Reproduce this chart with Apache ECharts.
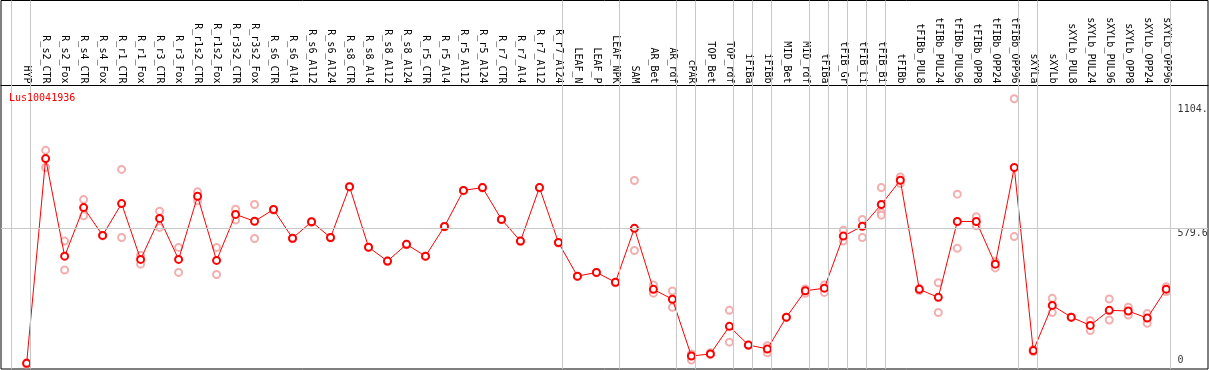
<!DOCTYPE html>
<html><head><meta charset="utf-8">
<script src="https://cdn.jsdelivr.net/npm/echarts@6/dist/echarts.min.js"></script>
<style>html,body{margin:0;padding:0;background:#fff}#c{width:1209px;height:370px}</style>
</head><body><div id="c"></div>
<script>
const title = "Lus10041936";
const categories = ["HYP","R_s2_CTR","R_s2_Fox","R_s4_CTR","R_s4_Fox","R_r1_CTR","R_r1_Fox","R_r3_CTR","R_r3_Fox","R_r1s2_CTR","R_r1s2_Fox","R_r3s2_CTR","R_r3s2_Fox","R_s6_CTR","R_s6_Al4","R_s6_Al12","R_s6_Al24","R_s8_CTR","R_s8_Al4","R_s8_Al12","R_s8_Al24","R_r5_CTR","R_r5_Al4","R_r5_Al12","R_r5_Al24","R_r7_CTR","R_r7_Al4","R_r7_Al12","R_r7_Al24","LEAF_N","LEAF_P","LEAF_NPK","SAM","AR_Bet","AR_rdf","cPAR","TOP_Bet","TOP_rdf","iFIBa","iFIBb","MID_Bet","MID_rdf","tFIBa","tFIB_Gr","tFIB_Li","tFIB_Bi","tFIBb","tFIBb_PUL8","tFIBb_PUL24","tFIBb_PUL96","tFIBb_OPP8","tFIBb_OPP24","tFIBb_OPP96","sXYLa","sXYLb","sXYLb_PUL8","sXYLb_PUL24","sXYLb_PUL96","sXYLb_OPP8","sXYLb_OPP24","sXYLb_OPP96"];
const meanValues = [7,876,462,668,550,685,448,622,448,716,444,639,610,660,538,608,541,757,500,441,512,462,588,741,753,618,526,753,520,377,393,351,580,321,279,38,47,164,85,68,203,315,326,547,589,681,784,321,287,609,609,428,838,61,253,203,168,232,229,199,322];
const replicateValues = [[3,10],[911,838],[526,403],[702,633],[550,548],[830,541],[466,428],[653,584],[499,393],[735,697],[499,384],[661,615],[681,537],[660,658],[538,536],[608,606],[541,539],[757,755],[500,498],[441,439],[512,510],[462,460],[588,586],[741,739],[753,751],[618,616],[526,524],[753,751],[520,518],[377,375],[393,391],[351,349],[783,486],[340,305],[314,245],[47,21],[52,44],[232,97],[85,83],[82,52],[203,201],[323,304],[339,308],[572,526],[618,541],[753,646,636],[798,770],[326,316],[349,223],[725,495],[629,591],[438,412],[1130,545],[66,56],[283,223],[203,201],[188,146],[280,191],[245,212],[219,177],[332,312]];
const separatorsAfter = [-1,0,28,31,34,35,37,38,39,41,42,43,44,45,52,53,60];
const gridValue = 579.6;
const yTickLabels = [{v:1104,t:"1104."},{v:579.6,t:"579.6"},{v:0,t:"0"}];

const FONT = "DejaVu Sans Mono";
const chart = echarts.init(document.getElementById('c'), null, {renderer:'canvas'});
const repData = [];
replicateValues.forEach((arr,i)=>arr.forEach(v=>repData.push([i,v])));
const idx = categories.map((_,i)=>i);
chart.setOption({
  animation:false,
  title:{text:title,left:9,top:93,padding:0,textStyle:{fontFamily:FONT,fontSize:10,fontWeight:'normal',color:'#ff0000'}},
  grid:{left:1,right:1,top:0.5,bottom:1,show:true,borderColor:'#000',borderWidth:1,backgroundColor:'#fff'},
  xAxis:{type:'value',position:'top',offset:-85,min:-1.35,max:62.2,
    axisLine:{show:true,onZero:false,lineStyle:{color:'#000',width:1}},
    axisTick:{show:false},splitLine:{show:false},
    axisLabel:{customValues:idx,rotate:90,margin:2,fontFamily:FONT,fontSize:10,color:'#000',padding:[0,0,5,0],
      formatter:v=>categories[Math.round(v)]||''}},
  yAxis:{type:'value',min:-17,max:1547,show:false,splitLine:{show:false}},
  series:[
    {type:'line',data:[],silent:true,
      markLine:{silent:true,symbol:'none',label:{show:false},animation:false,
        lineStyle:{color:'#c8c8c8',width:1,type:'solid'},
        data:separatorsAfter.map(i=>({xAxis:i+0.19})).concat([{yAxis:gridValue}])}},
    {type:'scatter',data:repData,symbol:'emptyCircle',symbolSize:7,z:3,
      itemStyle:{color:'#f09a9a',borderColor:'#f09a9a',borderWidth:1.5}},
    {type:'line',data:meanValues.map((v,i)=>[i,v]),symbol:'emptyCircle',symbolSize:7,z:4,
      lineStyle:{color:'#ff0000',width:1},
      itemStyle:{color:'#ff0000',borderColor:'#ff0000',borderWidth:1.5}},
    {type:'scatter',symbolSize:0,silent:true,
      data:yTickLabels.map((d,k)=>({value:[60.6,d.v],
        label:{show:true,formatter:d.t,position:'right',distance:0,fontFamily:FONT,fontSize:10,color:'#000',
          verticalAlign:k===2?'bottom':'top'}}))}
  ]
});
</script></body></html>
